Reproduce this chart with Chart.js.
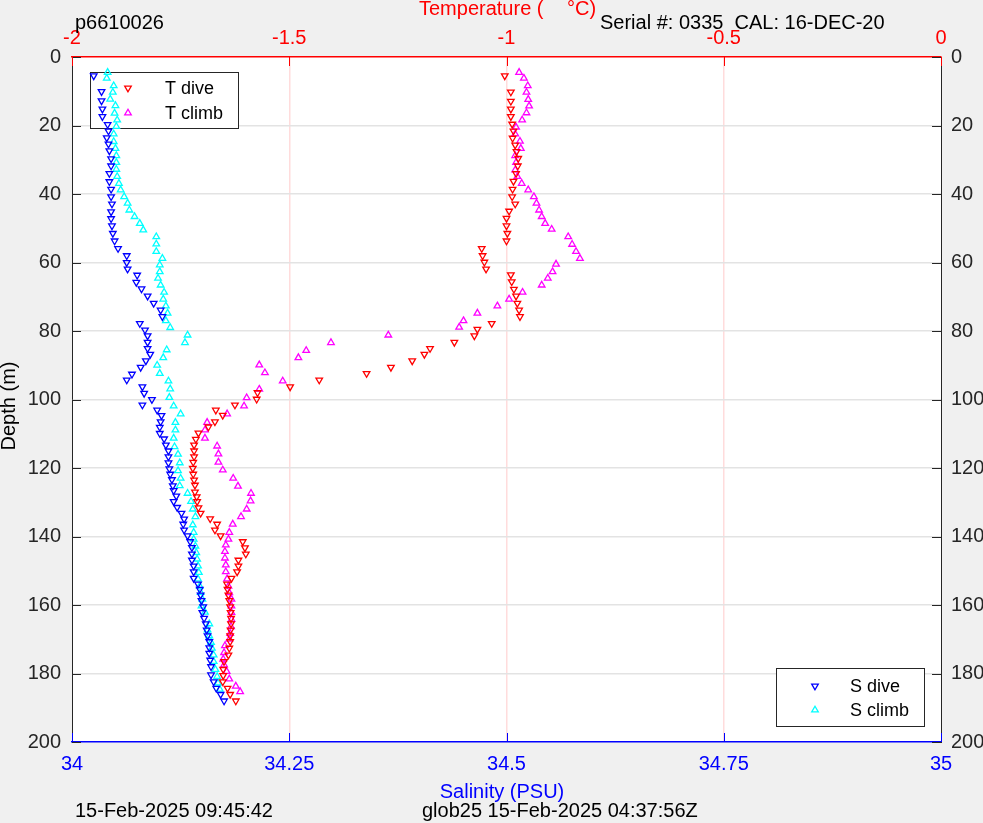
<!DOCTYPE html>
<html>
<head>
<meta charset="utf-8">
<script src="https://cdn.jsdelivr.net/npm/chart.js"></script>
<style>
html,body{margin:0;padding:0;background:#f0f0f0;overflow:hidden;}
canvas{display:block;}
</style>
</head>
<body>
<canvas id="c" width="983" height="823"></canvas>
<script>
// ---- Data ----
const depthTicks = [0,20,40,60,80,100,120,140,160,180,200];
const depthTickLabels = ['0','20','40','60','80','100','120','140','160','180','200'];
const tempTicks = [-2,-1.5,-1,-0.5,0];
const tempTickLabels = ['-2','-1.5','-1','-0.5','0'];
const salTicks = [34,34.25,34.5,34.75,35];
const salTickLabels = ['34','34.25','34.5','34.75','35'];

const tDiveDepth = [5.5,10.2,12.9,15.2,17.4,19.6,21.6,23.7,25.7,27.6,29.6,31.8,34.0,36.3,38.6,40.8,42.9,45.0,47.1,49.3,51.5,53.7,55.9,58.0,59.9,61.9,63.6,65.6,67.8,69.8,71.9,73.9,75.8,77.8,79.5,81.4,83.3,85.1,86.8,88.7,90.6,92.4,94.3,96.3,98.0,99.9,101.6,103.1,104.6,106.5,108.0,109.8,111.6,113.3,115.0,116.7,118.3,120.1,121.8,123.5,125.0,127.0,128.4,129.8,131.6,133.2,134.8,136.4,138.1,139.8,141.5,143.3,145.1,146.9,148.6,150.3,152.2,153.9,155.4,157.1,158.7,160.5,162.2,163.9,165.5,167.3,169.0,170.7,172.6,174.6,176.5,178.8,180.6,182.4,184.3,186.1,188.0];
const tDiveTemp = [-1.004,-0.990,-0.990,-0.990,-0.990,-0.987,-0.984,-0.986,-0.980,-0.977,-0.973,-0.974,-0.978,-0.984,-0.986,-0.987,-0.980,-0.994,-1.000,-1.000,-0.998,-1.000,-1.057,-1.055,-1.051,-1.047,-0.990,-0.988,-0.983,-0.978,-0.975,-0.971,-0.969,-1.034,-1.067,-1.074,-1.120,-1.176,-1.189,-1.217,-1.266,-1.322,-1.431,-1.498,-1.573,-1.575,-1.625,-1.669,-1.653,-1.671,-1.686,-1.709,-1.715,-1.719,-1.719,-1.719,-1.721,-1.722,-1.721,-1.719,-1.717,-1.717,-1.713,-1.712,-1.709,-1.704,-1.682,-1.666,-1.671,-1.658,-1.607,-1.602,-1.600,-1.617,-1.617,-1.620,-1.633,-1.643,-1.642,-1.640,-1.638,-1.636,-1.635,-1.634,-1.634,-1.635,-1.636,-1.636,-1.638,-1.640,-1.650,-1.652,-1.652,-1.653,-1.642,-1.636,-1.623];

const tClimbDepth = [4.5,6.2,8.4,10.3,12.4,14.3,16.3,18.4,20.5,22.5,24.6,26.7,28.8,30.8,33.0,34.9,36.9,38.8,40.8,42.7,44.7,46.6,48.6,50.3,52.5,54.7,56.8,58.8,60.5,62.7,64.6,66.6,68.7,70.7,72.7,74.8,77.0,78.9,81.2,83.4,85.7,87.8,89.9,92.2,94.6,97.0,99.5,101.9,104.2,106.7,108.9,111.3,113.6,115.9,118.3,120.6,123.0,125.3,127.4,129.6,132.0,134.2,136.4,138.8,140.8,142.5,144.4,146.3,148.3,150.3,152.4,154.5,156.4,158.3,160.3,162.2,164.2,166.3,168.3,170.0,171.9,173.9,175.8,177.5,179.4,181.6,183.7,185.3];
const tClimbTemp = [-0.971,-0.960,-0.951,-0.954,-0.950,-0.948,-0.954,-0.964,-0.978,-0.980,-0.969,-0.967,-0.980,-0.978,-0.980,-0.975,-0.965,-0.950,-0.937,-0.931,-0.925,-0.919,-0.911,-0.896,-0.858,-0.849,-0.840,-0.831,-0.886,-0.894,-0.905,-0.919,-0.963,-0.994,-1.021,-1.067,-1.099,-1.109,-1.272,-1.404,-1.461,-1.479,-1.569,-1.556,-1.515,-1.569,-1.598,-1.604,-1.643,-1.689,-1.694,-1.694,-1.666,-1.663,-1.663,-1.653,-1.629,-1.618,-1.588,-1.589,-1.598,-1.611,-1.630,-1.638,-1.640,-1.646,-1.648,-1.648,-1.646,-1.646,-1.643,-1.640,-1.638,-1.633,-1.633,-1.633,-1.633,-1.634,-1.636,-1.638,-1.648,-1.650,-1.652,-1.650,-1.644,-1.638,-1.623,-1.613];

const sDiveDepth = [5.5,10.1,12.8,15.2,17.4,19.7,21.6,23.6,25.4,27.4,29.7,31.8,34.0,36.4,38.6,40.8,42.9,45.2,47.2,49.3,51.5,53.7,55.9,58.0,60.0,61.9,63.7,65.8,67.7,69.8,71.9,73.9,75.8,77.8,79.7,81.4,83.3,85.1,86.8,88.7,90.6,92.6,94.3,96.3,98.2,100.0,101.6,103.1,104.7,106.5,108.1,109.9,111.5,113.3,115.0,116.7,118.5,120.2,121.8,123.4,125.2,126.6,128.2,129.8,131.5,133.2,134.9,136.4,138.1,139.8,141.5,143.2,145.1,146.9,148.6,150.3,152.2,153.9,155.4,157.1,158.7,160.5,162.2,163.9,165.5,167.3,169.0,170.7,172.5,174.1,176.1,178.0,180.4,182.4,184.3,186.1,188.0];
const sDiveSal = [34.025,34.034,34.034,34.035,34.035,34.041,34.042,34.040,34.042,34.043,34.045,34.045,34.043,34.043,34.045,34.045,34.046,34.045,34.045,34.046,34.047,34.049,34.053,34.063,34.063,34.064,34.075,34.074,34.080,34.087,34.094,34.102,34.104,34.078,34.084,34.087,34.087,34.087,34.090,34.085,34.079,34.069,34.063,34.081,34.083,34.092,34.081,34.098,34.103,34.102,34.101,34.101,34.106,34.108,34.111,34.111,34.111,34.112,34.113,34.115,34.116,34.117,34.120,34.117,34.121,34.126,34.129,34.128,34.129,34.133,34.136,34.138,34.138,34.138,34.140,34.140,34.140,34.145,34.147,34.148,34.149,34.151,34.150,34.152,34.154,34.155,34.156,34.158,34.158,34.158,34.159,34.160,34.160,34.163,34.166,34.171,34.175];

const sClimbDepth = [4.5,6.2,8.4,10.3,12.3,14.2,16.4,18.4,20.3,22.5,24.7,26.7,28.8,30.8,32.8,34.9,36.9,38.8,40.8,42.7,44.7,46.6,48.6,50.5,52.5,54.6,56.8,58.8,60.7,62.7,64.6,66.6,68.7,70.7,72.7,74.8,77.0,79.0,81.2,83.4,85.5,87.8,90.0,92.4,94.6,96.9,99.4,101.9,104.2,106.7,108.9,111.3,113.8,116.0,118.5,120.8,123.0,125.2,127.4,129.8,132.0,134.2,136.6,138.8,140.8,142.8,144.7,146.6,148.6,150.5,152.4,154.5,156.3,158.3,160.3,162.1,165.5,167.3,169.0,170.9,172.6,174.6,176.5,178.8,180.9,182.8,184.6];
const sClimbSal = [34.041,34.040,34.048,34.047,34.044,34.050,34.049,34.052,34.051,34.048,34.048,34.050,34.051,34.051,34.051,34.052,34.054,34.056,34.060,34.064,34.066,34.072,34.078,34.082,34.097,34.097,34.097,34.104,34.101,34.101,34.099,34.102,34.106,34.105,34.108,34.110,34.108,34.113,34.133,34.130,34.109,34.105,34.098,34.101,34.111,34.113,34.112,34.117,34.125,34.119,34.119,34.117,34.118,34.122,34.124,34.122,34.125,34.124,34.133,34.137,34.139,34.142,34.139,34.140,34.140,34.142,34.143,34.144,34.145,34.146,34.145,34.147,34.148,34.150,34.149,34.153,34.158,34.156,34.158,34.160,34.161,34.163,34.163,34.165,34.167,34.168,34.170];

const seriesLabels = ['T dive','T climb','S dive','S climb'];
const seriesColors = ['#ff0000','#ff00ff','#0000ff','#00ffff'];

// ---- Chart ----
const FONT = '"Liberation Sans", Arial, Helvetica, sans-serif';
Chart.defaults.font.family = FONT;
const MR = 3.8, MW = 1.3;

function pts(xs, ys){ return xs.map((x,i)=>({x:x, y:ys[i]})); }

function ds(i, data, xAxis, down){
  return {
    label: seriesLabels[i],
    data: data,
    xAxisID: xAxis,
    yAxisID: 'y',
    showLine: false,
    pointStyle: 'triangle',
    rotation: down ? 180 : 0,
    pointRadius: MR,
    pointBorderWidth: MW,
    borderColor: seriesColors[i],
    backgroundColor: 'rgba(255,255,255,0)',
    pointBackgroundColor: 'rgba(255,255,255,0)'
  };
}

function setTicks(vals){ return s => { s.ticks = vals.map(v => ({value: v})); }; }

const edgeHide = (edges, col) => c => (c.tick && edges.includes(c.tick.value)) ? 'rgba(0,0,0,0)' : col;

function tri(ctx, x, y, r, rotDeg){
  const rot = (rotDeg || 0) * Math.PI / 180;
  ctx.beginPath();
  for (let j = 0; j < 3; j++) {
    const ang = rot + j * 2 * Math.PI / 3;
    const px = x + Math.sin(ang) * r, py = y - Math.cos(ang) * r;
    if (j === 0) ctx.moveTo(px, py); else ctx.lineTo(px, py);
  }
  ctx.closePath();
  ctx.stroke();
}

const decor = {
  id: 'decor',
  beforeDraw(chart){
    const {ctx, chartArea:a} = chart;
    ctx.save();
    ctx.fillStyle = '#f0f0f0';
    ctx.fillRect(0,0,chart.width,chart.height);
    ctx.fillStyle = '#ffffff';
    ctx.fillRect(a.left,a.top,a.right-a.left,a.bottom-a.top);
    ctx.restore();
  },
  beforeDatasetsDraw(chart){
    const ctx = chart.ctx;
    ctx.save();
    const drawLegend = (bx, by, bw, bh, idxs, mx, tx, rowYs) => {
      ctx.fillStyle = '#ffffff';
      ctx.fillRect(bx, by, bw, bh);
      ctx.strokeStyle = '#262626';
      ctx.lineWidth = 1;
      ctx.strokeRect(bx + 0.5, by + 0.5, bw, bh);
      idxs.forEach((di, k) => {
        const d = chart.data.datasets[di];
        ctx.strokeStyle = d.borderColor;
        ctx.lineWidth = MW;
        tri(ctx, mx, rowYs[k], MR, d.rotation);
        ctx.fillStyle = '#000000';
        ctx.font = '18px ' + FONT;
        ctx.textAlign = 'left';
        ctx.textBaseline = 'middle';
        ctx.fillText(d.label, tx, rowYs[k] + 1);
      });
    };
    drawLegend(90, 72, 148, 56, [0,1], 128, 165, [88, 113]);
    drawLegend(776, 668, 148, 58, [2,3], 815, 850, [686, 710]);
    ctx.restore();
  },
  afterDraw(chart){
    const ctx = chart.ctx, a = chart.chartArea, L = 9;
    const sy = chart.scales.y, sT = chart.scales.xT, sS = chart.scales.xS;
    ctx.save();
    const line = (x1,y1,x2,y2) => { ctx.beginPath(); ctx.moveTo(x1,y1); ctx.lineTo(x2,y2); ctx.stroke(); };
    ctx.lineWidth = 1;
    ctx.strokeStyle = '#262626';
    depthTicks.forEach(v => { const p = Math.round(sy.getPixelForValue(v)) + 0.5; line(a.left, p, a.left + L, p); line(a.right - L, p, a.right, p); });
    ctx.strokeStyle = '#ff0000';
    tempTicks.forEach(v => { const p = Math.round(sT.getPixelForValue(v)) + 0.5; line(p, a.top, p, a.top + L); });
    ctx.strokeStyle = '#0000ff';
    salTicks.forEach(v => { const p = Math.round(sS.getPixelForValue(v)) + 0.5; line(p, a.bottom - L, p, a.bottom); });

    // texts
    ctx.textBaseline = 'alphabetic';
    ctx.font = '20px ' + FONT;
    ctx.fillStyle = '#000000';
    ctx.textAlign = 'left';
    ctx.fillText('p6610026', 75, 29);
    ctx.fillText('Serial #: 0335  CAL: 16-DEC-20', 600, 29);
    ctx.fillText('15-Feb-2025 09:45:42', 75, 817);
    ctx.fillText('glob25 15-Feb-2025 04:37:56Z', 422, 817);
    ctx.fillStyle = '#ff0000';
    ctx.fillText('Temperature (', 419, 15);
    ctx.fillText('\u00B0C)', 567, 15);
    ctx.fillStyle = '#0000ff';
    ctx.textAlign = 'center';
    ctx.fillText('Salinity (PSU)', 502, 798);
    ctx.fillStyle = '#000000';
    ctx.translate(15, 406);
    ctx.rotate(-Math.PI / 2);
    ctx.fillText('Depth (m)', 0, 0);
    ctx.restore();
  }
};

new Chart(document.getElementById('c'), {
  type: 'scatter',
  data: {
    datasets: [
      ds(0, pts(tDiveTemp, tDiveDepth), 'xT', true),
      ds(1, pts(tClimbTemp, tClimbDepth), 'xT', false),
      ds(2, pts(sDiveSal, sDiveDepth), 'xS', true),
      ds(3, pts(sClimbSal, sClimbDepth), 'xS', false)
    ]
  },
  options: {
    responsive: false,
    maintainAspectRatio: false,
    devicePixelRatio: 1,
    animation: false,
    events: [],
    layout: { padding: 0 },
    plugins: { legend: { display: false }, tooltip: { enabled: false }, title: { display: false } },
    scales: {
      xT: {
        type: 'linear', position: 'top', min: -2, max: 0,
        afterBuildTicks: setTicks(tempTicks),
        afterFit: s => { s.height = 57; },
        ticks: { color: '#ff0000', font: { size: 20 }, padding: 7, maxRotation: 0, autoSkip: false,
                 callback: (v, i) => tempTickLabels[i] },
        grid: { color: edgeHide([-2, 0], '#ffdcdc'), lineWidth: 1.5, drawTicks: false },
        border: { color: '#ff0000', width: 1.5 }
      },
      xS: {
        type: 'linear', position: 'bottom', min: 34, max: 35,
        afterBuildTicks: setTicks(salTicks),
        afterFit: s => { s.height = 81; },
        ticks: { color: '#0000ff', font: { size: 20 }, padding: 10, maxRotation: 0, autoSkip: false,
                 callback: (v, i) => salTickLabels[i] },
        grid: { display: false, drawTicks: false },
        border: { color: '#0000ff', width: 1.5 }
      },
      y: {
        type: 'linear', position: 'left', min: 0, max: 200, reverse: true,
        afterBuildTicks: setTicks(depthTicks),
        afterFit: s => { s.width = 72; },
        ticks: { color: '#262626', font: { size: 20 }, padding: 11, autoSkip: false,
                 callback: (v, i) => depthTickLabels[i] },
        grid: { color: edgeHide([0, 200], '#e3e3e3'), lineWidth: 1.5, drawTicks: false },
        border: { color: '#262626', width: 1 }
      },
      y2: {
        type: 'linear', position: 'right', min: 0, max: 200, reverse: true,
        afterBuildTicks: setTicks(depthTicks),
        afterFit: s => { s.width = 42; },
        ticks: { color: '#262626', font: { size: 20 }, padding: 10, autoSkip: false,
                 callback: (v, i) => depthTickLabels[i] },
        grid: { display: false, drawTicks: false },
        border: { color: '#262626', width: 1 }
      }
    }
  },
  plugins: [decor]
});
</script>
</body>
</html>
